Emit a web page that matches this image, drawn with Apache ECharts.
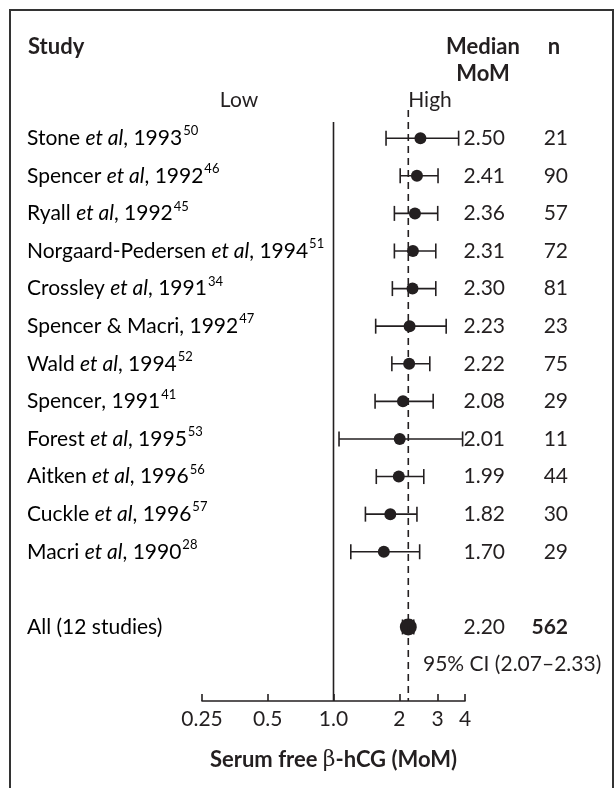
<!DOCTYPE html>
<html>
<head>
<meta charset="utf-8">
<script src="https://cdn.jsdelivr.net/npm/echarts@6/dist/echarts.min.js"></script>
<style>
  html, body { margin: 0; padding: 0; background: #fff; }
  #chart { width: 614px; height: 788px; }
</style>
</head>
<body>
<div id="chart"></div>
<script>
// Serum free beta-hCG in Down syndrome pregnancies: median MoM by study
const studyAuthors = ['Stone', 'Spencer', 'Ryall', 'Norgaard-Pedersen', 'Crossley',
  'Spencer & Macri', 'Wald', 'Spencer', 'Forest', 'Aitken', 'Cuckle', 'Macri'];
const studyEtAl = [true, true, true, true, true, false, true, false, true, true, true, true];
const studyYears = [1993, 1992, 1992, 1994, 1991, 1992, 1994, 1991, 1995, 1996, 1996, 1990];
const studyRefs = [50, 46, 45, 51, 34, 47, 52, 41, 53, 56, 57, 28];
const medianMoM = [2.50, 2.41, 2.36, 2.31, 2.30, 2.23, 2.22, 2.08, 2.01, 1.99, 1.82, 1.70];
const ciLow = [1.74, 2.02, 1.90, 1.90, 1.86, 1.56, 1.85, 1.55, 1.06, 1.57, 1.40, 1.20];
const ciHigh = [3.74, 3.01, 3.00, 2.94, 2.94, 3.28, 2.76, 2.86, 3.90, 2.59, 2.41, 2.48];
const nValues = [21, 90, 57, 72, 81, 23, 75, 29, 11, 44, 30, 29];

const pooledLabel = 'All (12 studies)';
const pooledMedian = 2.20;
const pooledLow = 2.07;
const pooledHigh = 2.33;
const pooledN = 562;

const tickValues = [0.25, 0.5, 1, 2, 3, 4];
const tickLabels = ['0.25', '0.5', '1.0', '2', '3', '4'];

const FONT = 'Lato';
const FS = 21;       // body text
const FS_HEAD = 22;  // bold headings
const INK = '#231f20';

// row index for each study; pooled row leaves one blank row above it
const studyRows = studyAuthors.map((_, i) => i);
const pooledRow = studyAuthors.length + 1;
const ciTextRow = pooledRow + 1;

const whiskerData = studyRows.map(i => [i, ciLow[i], ciHigh[i]]);
whiskerData.push([pooledRow, pooledLow, pooledHigh]);

function studyText(i) {
  let s = '{a|' + studyAuthors[i] + '}';
  if (studyEtAl[i]) s += '{a| }{i|et al}';
  s += '{a|, ' + studyYears[i] + '}{s|' + studyRefs[i] + '}';
  return s;
}

const richStyles = {
  a: { fontFamily: FONT, fontSize: FS, color: INK, lineHeight: 27 },
  i: { fontFamily: FONT, fontSize: FS, fontStyle: 'italic', color: INK, lineHeight: 27 },
  s: { fontFamily: FONT, fontSize: 13, color: INK, lineHeight: 27, verticalAlign: 'top', padding: [0, 0, 0, 1] }
};

const textRows = studyRows.map(i => ({
  row: i, label: studyText(i), median: medianMoM[i].toFixed(2), n: String(nValues[i]), bold: false
}));
textRows.push({ row: pooledRow, label: '{a|' + pooledLabel + '}', median: pooledMedian.toFixed(2), n: String(pooledN), bold: true });

const chart = echarts.init(document.getElementById('chart'), null, { renderer: 'canvas' });

const headStyle = { fontFamily: FONT, fontSize: FS_HEAD, fontWeight: 'bold', fill: INK, verticalAlign: 'middle' };

const option = {
  animation: false,
  backgroundColor: '#fff',
  grid: { left: 202, width: 263, top: 110, bottom: 87 },
  xAxis: {
    type: 'log',
    logBase: 2,
    min: 0.25,
    max: 4,
    splitLine: { show: false },
    axisLine: { show: true, onZero: false, lineStyle: { color: INK, width: 1.6 } },
    axisTick: { show: true, inside: true, length: 7, lineStyle: { color: INK, width: 1.6 }, customValues: tickValues },
    axisLabel: {
      customValues: tickValues,
      margin: 8,
      fontFamily: FONT, fontSize: FS, color: INK,
      formatter: v => {
        const k = tickValues.findIndex(t => Math.abs(t - v) < 1e-9);
        return k >= 0 ? tickLabels[k] : '';
      }
    },
    name: '{b|Serum free }{g|β}{b|-hCG (MoM)}',
    nameLocation: 'middle',
    nameGap: 48,
    nameTextStyle: {
      rich: {
        b: { fontFamily: FONT, fontSize: FS_HEAD, fontWeight: 'bold', color: INK },
        g: { fontFamily: 'DejaVu Serif', fontSize: FS_HEAD, color: INK }
      }
    }
  },
  yAxis: {
    type: 'value', inverse: true, min: -0.75, max: 14.97, show: false
  },
  series: [
    {
      // line of no effect at MoM 1.0
      type: 'line', silent: true, symbol: 'none',
      lineStyle: { color: INK, width: 1.6 },
      data: [[1, -0.43], [1, 14.97]]
    },
    {
      // pooled median reference line
      type: 'line', silent: true, symbol: 'none',
      lineStyle: { color: INK, width: 1.6, type: [7, 5] },
      data: [[pooledMedian, -0.75], [pooledMedian, 14.97]]
    },
    {
      // 95% confidence interval whiskers
      type: 'custom', silent: true, clip: false,
      data: whiskerData,
      renderItem: (params, api) => {
        const row = api.value(0);
        const p1 = api.coord([api.value(1), row]);
        const p2 = api.coord([api.value(2), row]);
        const cap = 7.5;
        const st = { stroke: INK, lineWidth: 1.6 };
        return {
          type: 'group',
          children: [
            { type: 'line', shape: { x1: p1[0], y1: p1[1], x2: p2[0], y2: p2[1] }, style: st },
            { type: 'line', shape: { x1: p1[0], y1: p1[1] - cap, x2: p1[0], y2: p1[1] + cap }, style: st },
            { type: 'line', shape: { x1: p2[0], y1: p2[1] - cap, x2: p2[0], y2: p2[1] + cap }, style: st }
          ]
        };
      }
    },
    {
      type: 'scatter', silent: true, symbol: 'circle', symbolSize: 12,
      itemStyle: { color: INK, opacity: 1 },
      data: studyRows.map(i => [medianMoM[i], i])
    },
    {
      type: 'scatter', silent: true, symbol: 'circle', symbolSize: 17,
      itemStyle: { color: INK, opacity: 1 },
      data: [[pooledMedian, pooledRow]]
    },
    {
      // study names, medians and sample sizes, placed on each row
      type: 'custom', silent: true, clip: false,
      data: textRows.map(r => [r.row]),
      renderItem: (params, api) => {
        const r = textRows[params.dataIndex];
        const y = api.coord([1, r.row])[1];
        return {
          type: 'group',
          children: [
            { type: 'text', x: 27, y: y, style: { text: r.label, rich: richStyles, verticalAlign: 'middle', align: 'left' } },
            { type: 'text', x: 505, y: y, style: { text: r.median, fontFamily: FONT, fontSize: FS, fill: INK, align: 'right', verticalAlign: 'middle' } },
            { type: 'text', x: 568, y: y, style: { text: r.n, fontFamily: FONT, fontSize: FS, fill: INK, align: 'right', verticalAlign: 'middle', fontWeight: r.bold ? 'bold' : 'normal' } }
          ]
        };
      }
    },
    {
      type: 'custom', silent: true, clip: false,
      data: [[ciTextRow]],
      renderItem: (params, api) => {
        const y = api.coord([1, ciTextRow])[1];
        return {
          type: 'text', x: 423, y: y,
          style: {
            text: '95% CI (' + pooledLow.toFixed(2) + '–' + pooledHigh.toFixed(2) + ')',
            fontFamily: FONT, fontSize: FS, fill: INK, align: 'left', verticalAlign: 'middle'
          }
        };
      }
    }
  ],
  graphic: [
    { type: 'rect', shape: { x: 10, y: 10, width: 603, height: 800 }, style: { fill: 'none', stroke: '#333', lineWidth: 2 } },
    { type: 'text', x: 28, y: 47, style: Object.assign({ text: 'Study' }, headStyle) },
    { type: 'text', x: 483, y: 47, style: Object.assign({ text: 'Median', align: 'center' }, headStyle) },
    { type: 'text', x: 483, y: 74, style: Object.assign({ text: 'MoM', align: 'center' }, headStyle) },
    { type: 'text', x: 554, y: 47, style: Object.assign({ text: 'n', align: 'center' }, headStyle) },
    { type: 'text', x: 239, y: 100, style: { text: 'Low', fontFamily: FONT, fontSize: FS, fill: INK, align: 'center', verticalAlign: 'middle' } },
    { type: 'text', x: 430, y: 100, style: { text: 'High', fontFamily: FONT, fontSize: FS, fill: INK, align: 'center', verticalAlign: 'middle' } }
  ]
};

chart.setOption(option);
</script>
</body>
</html>
